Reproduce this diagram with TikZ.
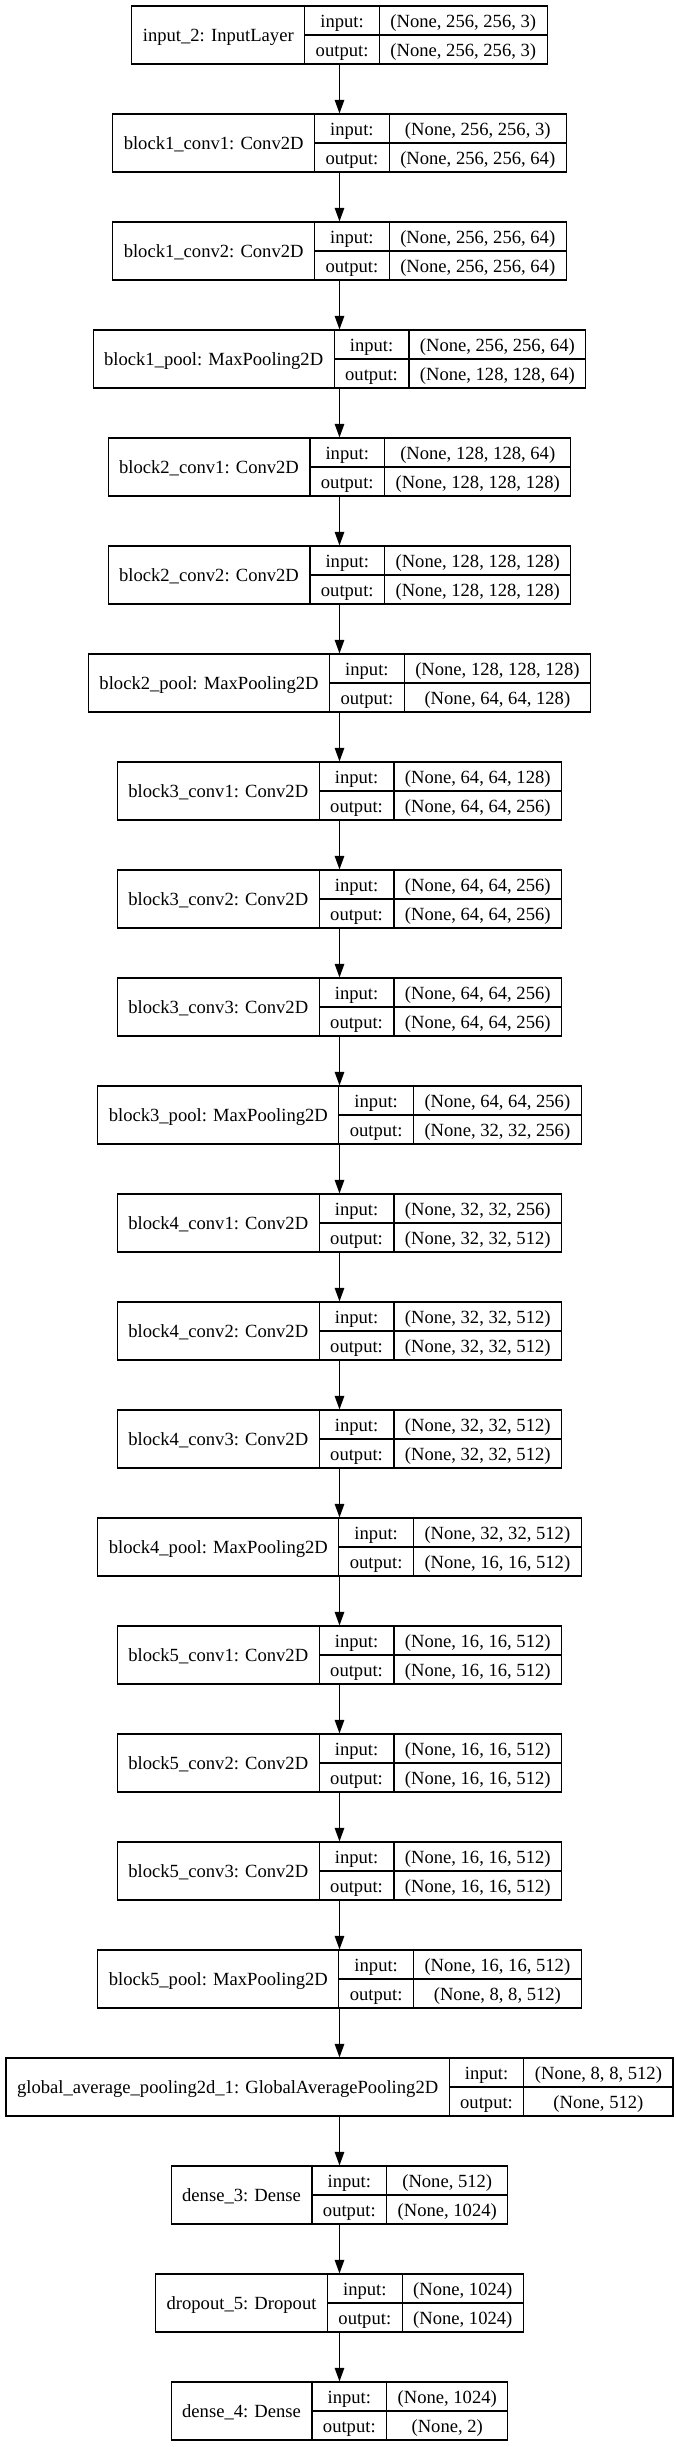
\documentclass[tikz,border=0pt]{standalone}
\usepackage{fontspec}
\setmainfont{Liberation Serif}
\usetikzlibrary{arrows.meta}
\newlength\wa \newlength\wb \newlength\wc \newlength\wt
\newcommand\kf{\fontsize{18.6pt}{22pt}\selectfont}
\tikzset{
  boxn/.style={draw, line width=1.2pt, minimum height=58pt, inner sep=0pt},
  lin/.style={line width=1.2pt},
  txt/.style={anchor=base, inner sep=0pt, font=\kf},
  arr/.style={line width=1.1pt, -{Triangle[length=13.5pt,width=9.5pt]}}
}
\newcommand\kmeasure[5]{%
 \settowidth\wa{\kf #3}\addtolength\wa{22pt}%
 \settowidth\wb{\kf output:}\addtolength\wb{22pt}%
 \settowidth\wc{\kf #4}\settowidth\wt{\kf #5}%
 \ifdim\wt>\wc\wc=\wt\fi\addtolength\wc{22pt}%
 \expandafter\xdef\csname kwa#1\endcsname{\the\wa}%
 \expandafter\xdef\csname kwb#1\endcsname{\the\wb}%
 \expandafter\xdef\csname kwc#1\endcsname{\the\wc}%
}
\newcommand\kdraw[5]{%
 \pgfmathsetmacro\tot{\csname kwa#1\endcsname+\csname kwb#1\endcsname+\csname kwc#1\endcsname}%
 \pgfmathsetmacro\Lx{339.5-\tot/2}%
 \pgfmathsetmacro\Ax{\Lx+\csname kwa#1\endcsname}%
 \pgfmathsetmacro\Bx{\Ax+\csname kwb#1\endcsname}%
 \pgfmathsetmacro\Rx{\Bx+\csname kwc#1\endcsname}%
 \pgfmathsetmacro\Ty{6+108*#1}%
 \node[boxn, minimum width=\tot pt] (#2) at (339.5,\Ty+29) {};
 \draw[lin] (\Ax,\Ty) -- (\Ax,\Ty+58);
 \draw[lin] (\Bx,\Ty) -- (\Bx,\Ty+58);
 \draw[lin] (\Ax,\Ty+29) -- (\Rx,\Ty+29);
 \node[txt] (#2-l) at ({(\Lx+\Ax)/2},\Ty+29+6.7) {#3};
 \node[txt] (#2-ik) at ({(\Ax+\Bx)/2},\Ty+14.5+6.7) {input:};
 \node[txt] (#2-ok) at ({(\Ax+\Bx)/2},\Ty+43.5+6.7) {output:};
 \node[txt] (#2-iv) at ({(\Bx+\Rx)/2},\Ty+14.5+6.7) {#4};
 \node[txt] (#2-ov) at ({(\Bx+\Rx)/2},\Ty+43.5+6.7) {#5};
}
\newcommand\layerlist{%
\kbox{0}{b0}{input\_2: InputLayer}{(None, 256, 256, 3)}{(None, 256, 256, 3)}
\kbox{1}{b1}{block1\_conv1: Conv2D}{(None, 256, 256, 3)}{(None, 256, 256, 64)}
\kbox{2}{b2}{block1\_conv2: Conv2D}{(None, 256, 256, 64)}{(None, 256, 256, 64)}
\kbox{3}{b3}{block1\_pool: MaxPooling2D}{(None, 256, 256, 64)}{(None, 128, 128, 64)}
\kbox{4}{b4}{block2\_conv1: Conv2D}{(None, 128, 128, 64)}{(None, 128, 128, 128)}
\kbox{5}{b5}{block2\_conv2: Conv2D}{(None, 128, 128, 128)}{(None, 128, 128, 128)}
\kbox{6}{b6}{block2\_pool: MaxPooling2D}{(None, 128, 128, 128)}{(None, 64, 64, 128)}
\kbox{7}{b7}{block3\_conv1: Conv2D}{(None, 64, 64, 128)}{(None, 64, 64, 256)}
\kbox{8}{b8}{block3\_conv2: Conv2D}{(None, 64, 64, 256)}{(None, 64, 64, 256)}
\kbox{9}{b9}{block3\_conv3: Conv2D}{(None, 64, 64, 256)}{(None, 64, 64, 256)}
\kbox{10}{b10}{block3\_pool: MaxPooling2D}{(None, 64, 64, 256)}{(None, 32, 32, 256)}
\kbox{11}{b11}{block4\_conv1: Conv2D}{(None, 32, 32, 256)}{(None, 32, 32, 512)}
\kbox{12}{b12}{block4\_conv2: Conv2D}{(None, 32, 32, 512)}{(None, 32, 32, 512)}
\kbox{13}{b13}{block4\_conv3: Conv2D}{(None, 32, 32, 512)}{(None, 32, 32, 512)}
\kbox{14}{b14}{block4\_pool: MaxPooling2D}{(None, 32, 32, 512)}{(None, 16, 16, 512)}
\kbox{15}{b15}{block5\_conv1: Conv2D}{(None, 16, 16, 512)}{(None, 16, 16, 512)}
\kbox{16}{b16}{block5\_conv2: Conv2D}{(None, 16, 16, 512)}{(None, 16, 16, 512)}
\kbox{17}{b17}{block5\_conv3: Conv2D}{(None, 16, 16, 512)}{(None, 16, 16, 512)}
\kbox{18}{b18}{block5\_pool: MaxPooling2D}{(None, 16, 16, 512)}{(None, 8, 8, 512)}
\kbox{19}{b19}{global\_average\_pooling2d\_1: GlobalAveragePooling2D}{(None, 8, 8, 512)}{(None, 512)}
\kbox{20}{b20}{dense\_3: Dense}{(None, 512)}{(None, 1024)}
\kbox{21}{b21}{dropout\_5: Dropout}{(None, 1024)}{(None, 1024)}
\kbox{22}{b22}{dense\_4: Dense}{(None, 1024)}{(None, 2)}
}
\begin{document}
\let\kbox\kmeasure
\layerlist
\begin{tikzpicture}[x=1pt,y=-1pt]
\let\kbox\kdraw
\fill[white] (0,0) rectangle (676,2447);
\useasboundingbox (0,0) rectangle (676,2447);
\layerlist
\foreach \i [evaluate=\i as \j using int(\i+1)] in {0,...,21}
  \draw[arr] (b\i.south) -- (b\j.north);
\end{tikzpicture}
\end{document}
